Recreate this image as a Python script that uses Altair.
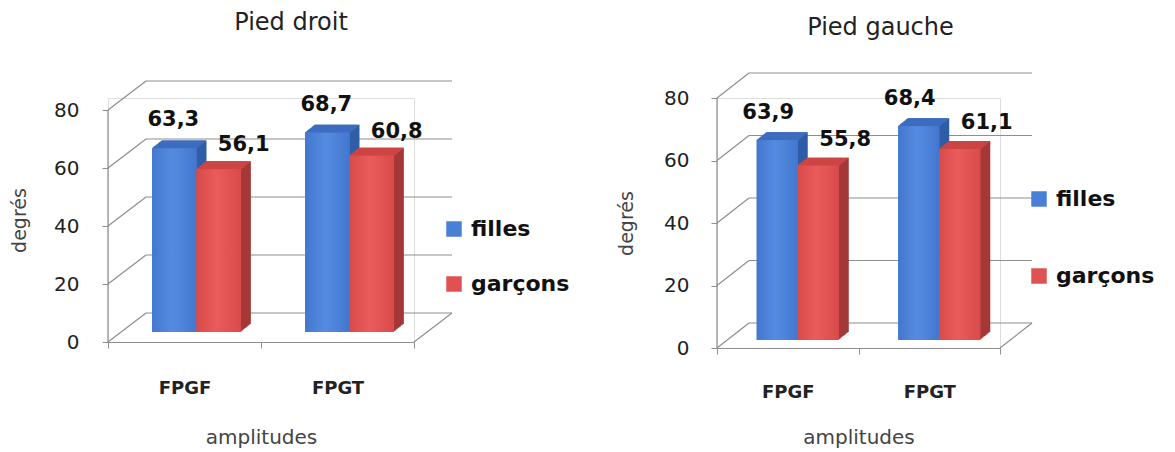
import altair as alt
import pandas as pd

# Values shown on the two panels (degrees)
categories = ["FPGF", "FPGT"]
series = ["filles", "garçons"]
droit_filles = [63.3, 68.7]
droit_garcons = [56.1, 60.8]
gauche_filles = [63.9, 68.4]
gauche_garcons = [55.8, 61.1]
y_ticks = [0, 20, 40, 60, 80]

FONT = "DejaVu Sans"
GRID = "#8e8e8e"
# per series: legend colour, front-face gradient (edge, centre), top face, side face
STYLE = {
    "filles": ("#4a7fd6", "#4377cf", "#558ce0", "#3c6dc0", "#2f5ea6"),
    "garçons": ("#e05252", "#d94b4b", "#ea5c5c", "#cc4444", "#a53838"),
}


def table(filles, garcons):
    rows = []
    for i, cat in enumerate(categories):
        for name, vals in (("filles", filles), ("garçons", garcons)):
            rows.append({
                "amplitude": cat,
                "sexe": name,
                "valeur": vals[i],
                "etiquette": f"{vals[i]:.1f}".replace(".", ","),
            })
    return pd.DataFrame(rows)


def gradient(edge, mid):
    return alt.LinearGradient(
        gradient="linear", x1=0, x2=1, y1=0, y2=0,
        stops=[alt.GradientStop(color=edge, offset=0),
               alt.GradientStop(color=mid, offset=0.45),
               alt.GradientStop(color=edge, offset=1)],
    )


def panel(title, title_dx, title_off, filles, garcons, W, H, y_max, wall_dx,
          wall_dy, lift_x, lift_y, side, top, legend_x, legend_y, legend_gap,
          label_pad, title_pad, ylab_pad, ytitle_pad, lab_b_off, lab_r_off):
    df = table(filles, garcons)
    grid = pd.DataFrame({"v": y_ticks})
    bw = W / 2 * 0.58 / 2   # width of one bar

    y_scale = alt.Scale(domain=[0, y_max])
    y_axis = alt.Axis(values=y_ticks, title="degrés", grid=False,
                      domain=False, tickColor=GRID, tickSize=6,
                      labelFont=FONT, labelFontSize=20, labelColor="#222222",
                      labelPadding=ylab_pad, titleFont=FONT, titleFontSize=19,
                      titleFontWeight="normal", titleColor="#444444",
                      titlePadding=ytitle_pad)
    x_enc = alt.X("amplitude:N", sort=categories,
                  scale=alt.Scale(paddingInner=0, paddingOuter=0),
                  axis=alt.Axis(title="amplitudes", labelAngle=0,
                                tickBand="extent", domainColor=GRID,
                                tickColor=GRID, tickSize=6, labelFont=FONT,
                                labelFontSize=18, labelFontWeight="bold",
                                labelColor="#222222", labelPadding=label_pad,
                                titleFont=FONT, titleFontSize=20,
                                titleFontWeight="normal", titleColor="#444444",
                                titlePadding=title_pad))

    # vertical axis line, stopping at the last tick
    axis_line = alt.Chart(grid).transform_aggregate(
        lo="min(v)", hi="max(v)").mark_rule(color=GRID, strokeWidth=1.2).encode(
        y=alt.Y("lo:Q", scale=y_scale, axis=y_axis), y2="hi:Q",
        x=alt.value(0))
    # back wall of the 3-D box: gridlines, slanted side lines, floor edge
    back = alt.Chart(grid).mark_rule(color=GRID, strokeWidth=1.2,
                                     yOffset=-wall_dy).encode(
        y=alt.Y("v:Q", scale=y_scale),
        x=alt.value(wall_dx), x2=alt.value(W + wall_dx))
    slant = alt.Chart(grid).mark_rule(color=GRID, strokeWidth=1.2,
                                      y2Offset=-wall_dy).encode(
        y=alt.Y("v:Q", scale=y_scale), y2="v:Q",
        x=alt.value(0), x2=alt.value(wall_dx))
    floor = alt.Chart(grid).transform_filter("datum.v == 0").mark_rule(
        color=GRID, strokeWidth=1.2, y2Offset=-wall_dy).encode(
        y=alt.Y("v:Q", scale=y_scale), y2="v:Q",
        x=alt.value(W), x2=alt.value(W + wall_dx))

    base = alt.Chart(df).encode(x=x_enc)
    layers = [axis_line, back, slant, floor]
    steps = 10
    for idx, name in enumerate(series):
        legend_col, edge, mid, top_col, side_col = STYLE[name]
        shift = (idx - 0.5) * bw + lift_x
        sub = base.transform_filter(alt.datum.sexe == name)
        # extrusion: darker copies stepped up and to the right
        for k in range(steps, 0, -1):
            ox = shift + side * k / steps
            oy = -(lift_y + top * k / steps)
            layers.append(sub.mark_bar(
                width=bw, xOffset=ox, yOffset=oy, y2Offset=oy,
                color=side_col).encode(y=alt.Y("valeur:Q", scale=y_scale)))
        for k in range(steps, 0, -1):
            ox = shift + side * k / steps - 1
            oy = -(lift_y + top * k / steps)
            layers.append(sub.mark_bar(
                width=bw, xOffset=ox, yOffset=oy, y2Offset=oy + 1.6,
                color=top_col).encode(y=alt.Y("valeur:Q", scale=y_scale),
                                      y2="valeur:Q"))
        layers.append(sub.mark_bar(
            width=bw, xOffset=shift, yOffset=-lift_y, y2Offset=-lift_y).encode(
            y=alt.Y("valeur:Q", scale=y_scale),
            color=alt.Color("sexe:N", sort=series,
                            scale=alt.Scale(domain=series,
                                            range=[STYLE[s][0] for s in series]),
                            legend=alt.Legend(
                                title=None, orient="none", legendX=legend_x,
                                legendY=legend_y, symbolType="square",
                                symbolSize=240, symbolStrokeWidth=0,
                                symbolOpacity=1, labelFont=FONT,
                                labelFontSize=22, labelFontWeight="bold",
                                labelColor="#111111", labelOffset=6,
                                rowPadding=legend_gap))))
        layers.append(sub.mark_bar(
            width=bw, xOffset=shift, yOffset=-lift_y, y2Offset=-lift_y,
            color=gradient(edge, mid)).encode(
            y=alt.Y("valeur:Q", scale=y_scale)))

    # value labels
    lab_b = base.transform_filter(alt.datum.sexe == "filles").mark_text(
        font=FONT, fontSize=21, fontWeight="bold", color="#111111",
        baseline="middle", dx=-0.5 * bw + lift_x + lab_b_off[0],
        dy=-(lift_y + lab_b_off[1])).encode(
        y=alt.Y("valeur:Q", scale=y_scale), text="etiquette:N")
    lab_r = base.transform_filter(alt.datum.sexe == "garçons").mark_text(
        font=FONT, fontSize=21, fontWeight="bold", color="#111111",
        baseline="middle", dx=0.5 * bw + lift_x + lab_r_off[0],
        dy=-(lift_y + lab_r_off[1])).encode(
        y=alt.Y("valeur:Q", scale=y_scale), text="etiquette:N")
    layers += [lab_b, lab_r]

    return alt.layer(*layers).properties(
        width=W, height=H,
        title=alt.TitleParams(title, font=FONT, fontSize=24,
                              fontWeight="normal", color="#222222",
                              dx=title_dx, offset=title_off),
    )


left = panel("Pied droit", 30, 45, droit_filles, droit_garcons, W=306, H=244,
             y_max=80 * 244 / 232, wall_dx=38, wall_dy=29, lift_x=12,
             lift_y=10, side=10, top=8, legend_x=335, legend_y=120,
             legend_gap=33, label_pad=31, title_pad=30, ylab_pad=23,
             ytitle_pad=24, lab_b_off=(-1, 28), lab_r_off=(25, 24))
right = panel("Pied gauche", 22, 32, gauche_filles, gauche_garcons, W=283,
              H=250, y_max=80, wall_dx=32, wall_dy=25, lift_x=10, lift_y=8,
              side=10, top=8, legend_x=311, legend_y=90, legend_gap=55,
              label_pad=29, title_pad=26, ylab_pad=22, ytitle_pad=27,
              lab_b_off=(-9, 27), lab_r_off=(27, 26))

chart = alt.hconcat(left, right, spacing=46).resolve_scale(
    color="independent", y="independent", x="independent"
).resolve_legend(color="independent").properties(
    padding={"left": 10, "top": 10, "right": 5, "bottom": 5}
).configure_view(stroke="transparent", strokeWidth=0).configure(
    background="white")

chart.save("out.html", embed_options={"renderer": "svg", "actions": False})
